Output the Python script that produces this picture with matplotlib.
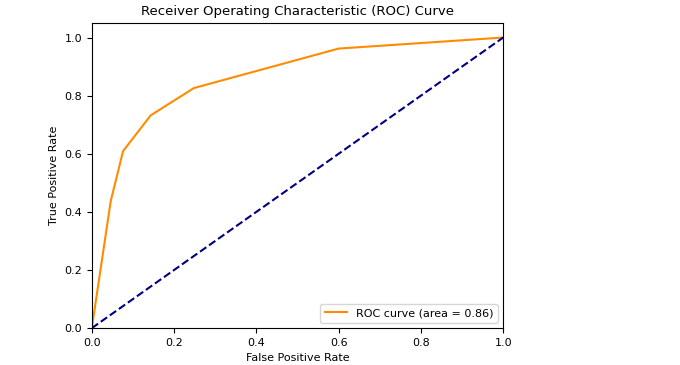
import matplotlib
matplotlib.use("Agg")
import matplotlib.pyplot as plt

# ROC points
fpr = [0.0, 0.046, 0.076, 0.143, 0.248, 0.60, 1.0]
tpr = [0.0, 0.437, 0.609, 0.732, 0.826, 0.962, 1.0]
roc_auc = 0.86

fig = plt.figure(figsize=(6.8, 3.65), dpi=100)
ax = fig.add_axes([0.135, 0.101, 0.605, 0.836])

ax.plot(fpr, tpr, color="darkorange", lw=1.5, label=f"ROC curve (area = {roc_auc:.2f})")
ax.plot([0, 1], [0, 1], color="navy", lw=1.5, linestyle="--")
ax.set_xlim(0.0, 1.0)
ax.set_ylim(0.0, 1.05)
ax.set_xlabel("False Positive Rate", fontsize=8)
ax.set_ylabel("True Positive Rate", fontsize=8)
ax.set_title("Receiver Operating Characteristic (ROC) Curve", fontsize=9.5)
ax.tick_params(labelsize=8)
ax.legend(loc="lower right", fontsize=8)

fig.savefig("out.png", dpi=100)
